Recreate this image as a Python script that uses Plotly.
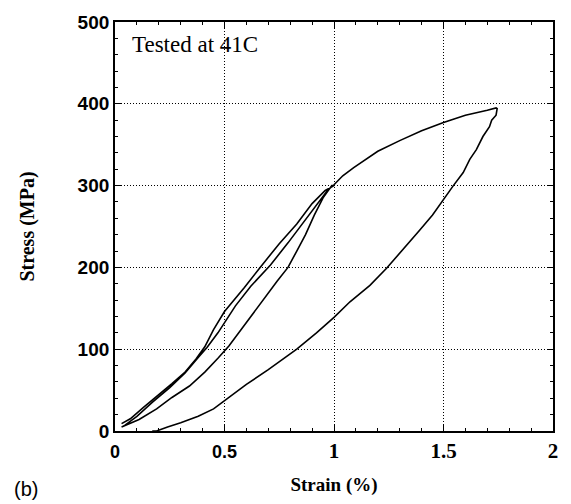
import plotly.graph_objects as go

# Loading 1 (upper branch to 300 MPa)
load1_strain = [0.03, 0.07, 0.13, 0.19, 0.26, 0.32, 0.37, 0.41, 0.45, 0.50, 0.59, 0.66, 0.75, 0.83, 0.90, 0.96, 1.00]
load1_stress = [9, 15, 29, 42, 58, 72, 88, 103, 124, 146, 175, 199, 229, 253, 278, 294, 300]

# Unloading 1 (from 300 MPa)
unload1_strain = [0.99, 0.95, 0.91, 0.87, 0.83, 0.79, 0.74, 0.66, 0.58, 0.52, 0.47, 0.41, 0.34, 0.26, 0.19, 0.11, 0.03]
unload1_stress = [300, 285, 264, 240, 220, 200, 183, 154, 126, 104, 89, 72, 55, 41, 27, 14, 5]

# Loading 2 (to 1.75 %)
load2_strain = [0.04, 0.10, 0.17, 0.25, 0.32, 0.38, 0.42, 0.47, 0.50, 0.55, 0.62, 0.71, 0.79, 0.86, 0.93, 0.97, 1.00,
                1.04, 1.09, 1.15, 1.20, 1.30, 1.40, 1.50, 1.60, 1.70, 1.74]
load2_stress = [6, 18, 35, 53, 71, 90, 102, 120, 133, 153, 177, 203, 230, 255, 281, 294, 301,
                312, 322, 333, 342, 355, 367, 377, 386, 392, 395]

# Unloading 2 (from peak)
unload2_strain = [1.745, 1.74, 1.72, 1.71, 1.68, 1.65, 1.62, 1.59, 1.545, 1.50, 1.45, 1.39, 1.315, 1.24, 1.164, 1.073,
                  1.00, 0.92, 0.83, 0.70, 0.60, 0.50, 0.45, 0.38, 0.30, 0.24, 0.19, 0.17]
unload2_stress = [394, 386, 380, 372, 360, 344, 332, 316, 300, 283, 264, 245, 222, 199, 178, 158,
                  139, 120, 100, 75, 57, 37, 27, 18, 10, 5, 0, 0]

x_tickvals = [0, 0.5, 1, 1.5, 2]
x_ticklabels = ["0", "0.5", "1", "1.5", "2"]
y_tickvals = [0, 100, 200, 300, 400, 500]
y_ticklabels = ["0", "100", "200", "300", "400", "500"]

strain = load1_strain + unload1_strain + load2_strain + unload2_strain
stress = load1_stress + unload1_stress + load2_stress + unload2_stress

sans_style = "font-family:Liberation Sans;font-size:18px"
x_text = []
for t in x_ticklabels:
    if t in ("0", "0.5"):
        x_text.append('<span style="%s">%s</span>' % (sans_style, t))
    else:
        x_text.append(t)

fig = go.Figure()
fig.add_trace(go.Scatter(x=strain, y=stress, mode="lines",
                         line=dict(color="black", width=1.6), showlegend=False))

axis_common = dict(
    showline=True, linecolor="black", linewidth=1.8, mirror="allticks",
    ticks="inside", ticklen=6, tickwidth=1, tickcolor="black",
    showgrid=True, gridcolor="black", griddash="1px,2px", gridwidth=1,
    zeroline=False,
)

fig.update_xaxes(range=[0, 2], tickvals=x_tickvals, ticktext=x_text,
                 tickfont=dict(family="Liberation Serif", size=21, color="black", weight="bold"),
                 minor=dict(dtick=0.1, ticks="inside", ticklen=3, tickcolor="black", showgrid=False),
                 title=dict(text="Strain (%)", font=dict(family="Liberation Serif", size=19, color="black", weight="bold"),
                            standoff=16),
                 **axis_common)
fig.update_yaxes(range=[0, 500], tickvals=y_tickvals, ticktext=y_ticklabels,
                 tickfont=dict(family="Liberation Sans", size=19, color="black", weight="bold"),
                 minor=dict(dtick=20, ticks="inside", ticklen=3, tickcolor="black", showgrid=False),
                 title=dict(text="Stress (MPa)", font=dict(family="Liberation Serif", size=20, color="black", weight="bold"),
                            standoff=38),
                 **axis_common)

fig.add_annotation(text="Tested at 41C", xref="paper", yref="paper", x=0.035, y=0.945,
                   xanchor="left", yanchor="middle", showarrow=False,
                   font=dict(family="Liberation Serif", size=23, color="black"))
fig.add_annotation(text="(b)", xref="paper", yref="paper", x=-0.235, y=-0.142,
                   xanchor="left", yanchor="middle", showarrow=False,
                   font=dict(family="Liberation Sans", size=20, color="black"))

fig.update_layout(width=571, height=504, margin=dict(l=115, r=18, t=17, b=72),
                  paper_bgcolor="white", plot_bgcolor="white")

fig.write_html("out.html")
